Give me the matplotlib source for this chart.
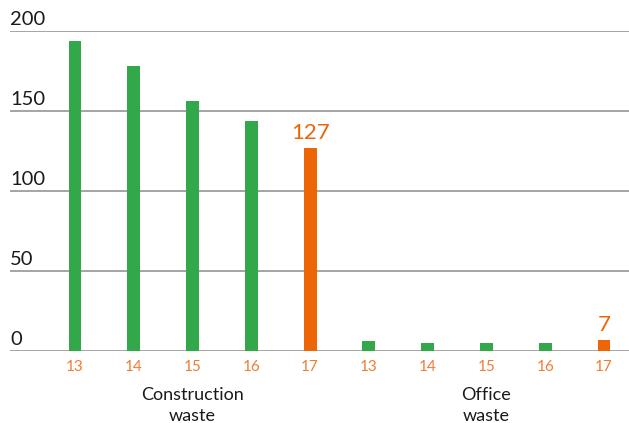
import numpy as np
import matplotlib.pyplot as plt
from matplotlib.transforms import blended_transform_factory

plt.rcParams['font.family'] = ['Lato', 'DejaVu Sans']

# Data
groups = [('Construction', 'waste'), ('Office', 'waste')]
years = ['13', '14', '15', '16', '17']
construction = [194, 178, 156, 144, 127]
office = [6, 5, 5, 5, 7]
yticks = [0, 50, 100, 150, 200]

green = '#33a84a'
orange = '#ec6608'
tick_orange = '#f07d32'
grid_gray = '#8c8c8c'

values = construction + office
x = np.arange(len(values))
colors = [green] * 4 + [orange] + [green] * 4 + [orange]

fig = plt.figure(figsize=(6.29, 4.23), dpi=100)
ax = fig.add_axes([10 / 629, (423 - 351) / 423, 619 / 629, 320 / 423])

ax.bar(x, values, width=0.22, color=colors, zorder=3)
ax.set_xlim(-1.106, 9.425)
ax.set_ylim(0, 200)

for spine in ax.spines.values():
    spine.set_visible(False)
ax.set_xticks([])
ax.set_yticks([])

# horizontal grid with the value above each line
tr = blended_transform_factory(ax.transAxes, ax.transData)
for t in yticks:
    ax.axhline(t, color=grid_gray, lw=1.1, zorder=1)
    ax.text(0, t + 2, str(t), transform=tr, ha='left', va='bottom',
            fontsize=14.5, color='#1a1a1a')

# year labels under the bars
for i, v in enumerate(x):
    ax.text(v, -10, years[i % 5], ha='center', va='center',
            fontsize=11, color=tick_orange, clip_on=False)

# group labels, two lines each
for g, (line1, line2) in enumerate(groups):
    cx = 2 + 5 * g
    ax.text(cx, -30.6, line1, ha='center', va='baseline',
            fontsize=13, color='#1a1a1a', clip_on=False)
    ax.text(cx, -43.6, line2, ha='center', va='baseline',
            fontsize=13, color='#1a1a1a', clip_on=False)

# value labels on the 2017 bars
for i in (4, 9):
    ax.text(x[i], values[i] + 3, str(values[i]), ha='center', va='bottom',
            fontsize=16, color=orange)

fig.savefig('out.png', dpi=100)
